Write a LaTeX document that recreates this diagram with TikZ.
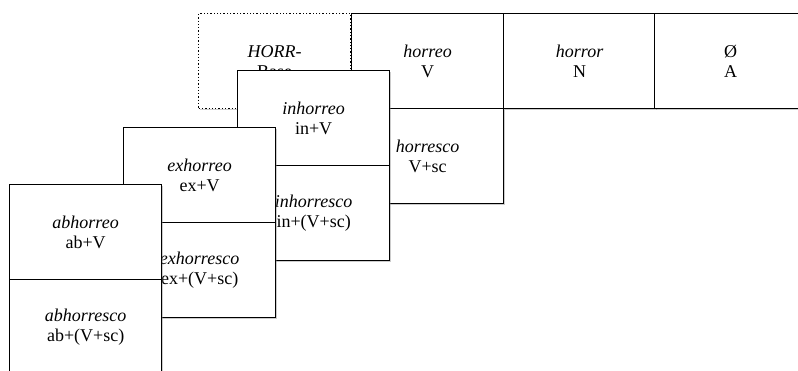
\documentclass[tikz,border=0pt]{standalone}
\usepackage{fontspec}
\setmainfont{Liberation Serif}
\usetikzlibrary{shadows}
\begin{document}
\begin{tikzpicture}[x=1pt,y=-1pt]

\tikzset{
  CellStyle/.style = { rectangle, draw, fill=white, line width=1.3pt,
                       minimum width=152pt, minimum height=95pt,
                       anchor=north west, align=center, inner sep=0pt,
                       font=\fontsize{18}{20}\selectfont,
                       drop shadow={shadow xshift=1.2pt, shadow yshift=-1.8pt,
                                    opacity=0.4} },
  BaseStyle/.style = { CellStyle, dotted } }

  \useasboundingbox (0,0) rectangle (798,371);

  % base row
  \node[BaseStyle] (base) at (198,13)  {\textit{HORR-}\\Base};
  \node[CellStyle] (v)    at (351,13)  {\textit{horreo}\\V};
  \node[CellStyle] (n)    at (503,13)  {\textit{horror}\\N};
  \node[CellStyle] (a)    at (654,13)  {Ø\\A};
  \node[CellStyle] (vsc)  at (351,108) {\textit{horresco}\\V+sc};

  % prefixed layers, back to front
  \node[CellStyle] (in1)  at (237,70)  {\textit{inhorreo}\\in+V};
  \node[CellStyle] (in2)  at (237,165) {\textit{inhorresco}\\in+(V+sc)};

  \node[CellStyle] (ex1)  at (123,127) {\textit{exhorreo}\\ex+V};
  \node[CellStyle] (ex2)  at (123,222) {\textit{exhorresco}\\ex+(V+sc)};

  \node[CellStyle] (ab1)  at (9,184)   {\textit{abhorreo}\\ab+V};
  \node[CellStyle] (ab2)  at (9,279)   {\textit{abhorresco}\\ab+(V+sc)};

\end{tikzpicture}
\end{document}
